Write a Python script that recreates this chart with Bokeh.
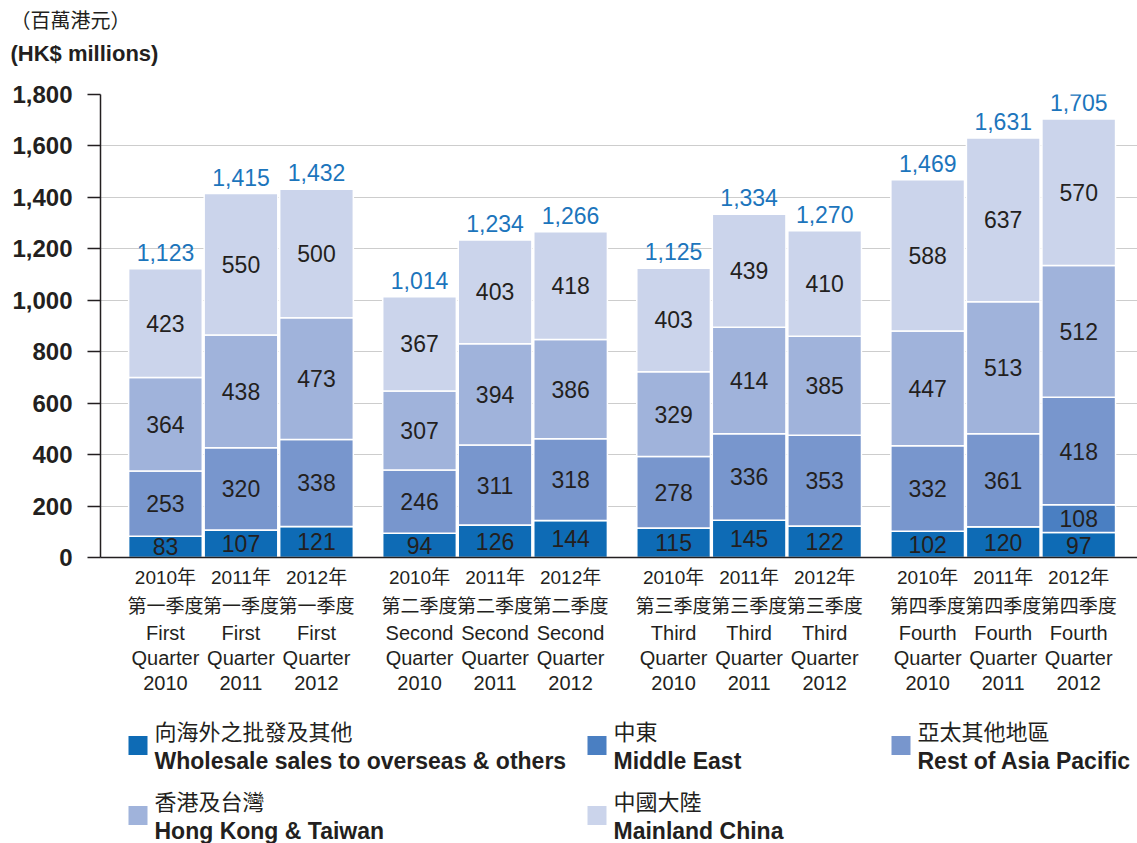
from bokeh.plotting import figure
from bokeh.models import (Range1d, FixedTicker, LinearAxis, Title, ColumnDataSource,
                          NumeralTickFormatter)
from bokeh.layouts import column
from bokeh.core.properties import value
from bokeh.embed import file_html
from bokeh.resources import INLINE

# ---------------- data ----------------
years = ["2010", "2011", "2012"]
quarters_zh = ["第一季度", "第二季度", "第三季度", "第四季度"]
quarters_en = ["First", "Second", "Third", "Fourth"]

series_keys = ["wholesale", "middle_east", "rest_apac", "hk_tw", "mainland"]
legend_zh = ["向海外之批發及其他", "中東", "亞太其他地區", "香港及台灣", "中國大陸"]
legend_en = ["Wholesale sales to overseas & others", "Middle East",
             "Rest of Asia Pacific", "Hong Kong & Taiwan", "Mainland China"]
colors = ["#0E6BB5", "#4A7FC2", "#7896CD", "#A0B3DB", "#CBD4EB"]

wholesale   = [83, 107, 121, 94, 126, 144, 115, 145, 122, 102, 120, 97]
middle_east = [0, 0, 0, 0, 0, 0, 0, 0, 0, 0, 0, 108]
rest_apac   = [253, 320, 338, 246, 311, 318, 278, 336, 353, 332, 361, 418]
hk_tw       = [364, 438, 473, 307, 394, 386, 329, 414, 385, 447, 513, 512]
mainland    = [423, 550, 500, 367, 403, 418, 403, 439, 410, 588, 637, 570]
totals      = [1123, 1415, 1432, 1014, 1234, 1266, 1125, 1334, 1270, 1469, 1631, 1705]

y_ticks = list(range(0, 1801, 200))
title_zh = "（百萬港元）"
title_en = "(HK$ millions)"

# ---------------- layout constants ----------------
W = 1137
TOP = 94
FRAME_H = 463
BOTTOM = 143
LEFT = 100
GROUP_GAP = 0.364
BAR_W = 0.975
TXT = "#231F20"
BLUE = "#1C75BC"
FONT = "Liberation Sans"
MIXED = "'Liberation Sans', 'Noto Sans CJK TC'"
CJK = "'Noto Sans CJK TC'"

xs, zh_labels, en_labels = [], [], []
for g in range(len(quarters_zh)):
    for j in range(len(years)):
        xs.append(round(g * (3 + GROUP_GAP) + j, 3))
        zh_labels.append(f"{years[j]}年\n{quarters_zh[g]}")
        en_labels.append(f"{quarters_en[g]}\nQuarter\n{years[j]}")

data = dict(x=xs, wholesale=wholesale, middle_east=middle_east, rest_apac=rest_apac,
            hk_tw=hk_tw, mainland=mainland, total=totals,
            total_lbl=[f"{t:,}" for t in totals])
src = ColumnDataSource(data)

p = figure(width=W, height=TOP + FRAME_H + BOTTOM,
           x_range=Range1d(-0.86, 12.87), y_range=Range1d(0, 1800),
           output_backend="svg", toolbar_location=None,
           min_border_left=LEFT, min_border_right=0, min_border_top=TOP,
           min_border_bottom=BOTTOM)
p.outline_line_color = None
p.background_fill_color = "white"

p.vbar_stack(series_keys, x="x", width=BAR_W, source=src, color=colors,
             line_color="white", line_width=1.5)

# segment value labels
lx, ly, lt = [], [], []
series_vals = [wholesale, middle_east, rest_apac, hk_tw, mainland]
for i in range(len(xs)):
    base = 0
    for vals in series_vals:
        v = vals[i]
        if v > 0:
            lx.append(xs[i]); ly.append(base + v / 2); lt.append(str(v))
        base += v
p.text(x=lx, y=ly, text=lt, text_align="center", text_baseline="middle",
       text_font=value(FONT), text_font_size="23px", text_color=TXT)

p.text(x="x", y="total", text="total_lbl", source=src, text_align="center",
       text_baseline="bottom", y_offset=-8,
       text_font=value(FONT), text_font_size="23px", text_color=BLUE)

# grid
p.xgrid.grid_line_color = None
p.ygrid.ticker = FixedTicker(ticks=y_ticks)
p.ygrid.grid_line_color = "#9A9A9A"
p.ygrid.grid_line_dash = "1 1"
p.ygrid.grid_line_width = 1

# y axis
p.yaxis.ticker = FixedTicker(ticks=y_ticks)
p.yaxis.formatter = NumeralTickFormatter(format="0,0")
p.yaxis.major_label_text_font = FONT
p.yaxis.major_label_text_font_size = "24px"
p.yaxis.major_label_text_font_style = "bold"
p.yaxis.major_label_text_color = TXT
p.yaxis.major_tick_out = 13
p.yaxis.major_tick_in = 0
p.yaxis.major_tick_line_color = TXT
p.yaxis.major_tick_line_width = 1.5
p.yaxis.minor_tick_line_color = None
p.yaxis.axis_line_color = TXT
p.yaxis.axis_line_width = 1.5
p.yaxis.major_label_standoff = 15

# x axis (Chinese lines)
xa = p.xaxis[0]
xa.ticker = FixedTicker(ticks=xs)
xa.major_label_overrides = {x: l for x, l in zip(xs, zh_labels)}
xa.major_label_text_font = MIXED
xa.major_label_text_font_size = "19px"
xa.major_label_text_color = TXT
xa.major_label_text_line_height = 1.4
xa.major_tick_line_color = None
xa.minor_tick_line_color = None
xa.axis_line_color = TXT
xa.axis_line_width = 1.5
xa.major_label_standoff = 3

# x axis (English lines)
xa2 = LinearAxis(ticker=FixedTicker(ticks=xs),
                 major_label_overrides={x: l for x, l in zip(xs, en_labels)})
xa2.major_label_text_font = FONT
xa2.major_label_text_font_size = "20px"
xa2.major_label_text_color = TXT
xa2.major_label_text_line_height = 1.15
xa2.major_tick_line_color = None
xa2.minor_tick_line_color = None
xa2.axis_line_color = None
xa2.major_label_standoff = -4
p.add_layout(xa2, "below")

# unit titles: spacer, English line, Chinese line (stacked upward from the frame)
spacer = Title(text=" ", text_font_size="1px", standoff=26)
t_en = Title(text=title_en, text_font=FONT, text_font_size="22px",
             text_font_style="bold", text_color=TXT, align="left", offset=-90,
             standoff=0)
t_zh = Title(text=title_zh, text_font=CJK, text_font_size="20px",
             text_color=TXT, text_font_style="normal", align="left", offset=-90,
             standoff=6, vertical_align="top")
p.add_layout(spacer, "above")
p.add_layout(t_en, "above")
p.add_layout(t_zh, "above")

# ---------------- legend figure ----------------
LH = 843 - (TOP + FRAME_H + BOTTOM)
leg = figure(width=W, height=LH, x_range=Range1d(LEFT, W), y_range=Range1d(LH, 0),
             output_backend="svg", toolbar_location=None,
             min_border_left=LEFT, min_border_right=0,
             min_border_top=0, min_border_bottom=0)
leg.axis.visible = False
leg.grid.visible = False
leg.outline_line_color = None

col_x = [128, 587, 891]
row_y = [45, 115]
sq_x, sq_y, tx, ty_zh, ty_en = [], [], [], [], []
for k in range(len(series_keys)):
    r, c = divmod(k, 3)
    sq_x.append(col_x[c] + 9.5)
    sq_y.append(row_y[r])
    tx.append(col_x[c] + 26)
    ty_zh.append(row_y[r] - 16)
    ty_en.append(row_y[r] + 15)
leg.rect(x=sq_x, y=sq_y, width=19, height=19, color=colors, line_color=None)
leg.text(x=tx, y=ty_zh, text=legend_zh, text_baseline="middle", text_align="left",
         text_font=value(CJK), text_font_size="22px", text_color=TXT)
leg.text(x=tx, y=ty_en, text=legend_en, text_baseline="middle", text_align="left",
         text_font=value(FONT), text_font_size="23px", text_font_style="bold", text_color=TXT)

layout = column(p, leg, spacing=0)
open("out.html", "w").write(file_html(layout, INLINE))
